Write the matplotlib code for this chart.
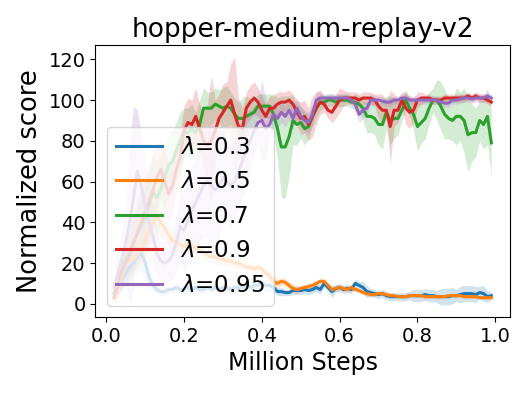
import numpy as np
import matplotlib
matplotlib.use("Agg")
import matplotlib.pyplot as plt

steps = np.round(np.arange(2, 100) / 100.0, 2)  # 0.02 ... 0.99 million steps

labels = [r"$\lambda$=0.3", r"$\lambda$=0.5", r"$\lambda$=0.7", r"$\lambda$=0.9", r"$\lambda$=0.95"]
colors = ["#1f77b4", "#ff7f0e", "#2ca02c", "#d62728", "#9467bd"]

mean_03 = [5, 8, 12, 15, 18, 20, 23, 25, 20, 13,
           9, 7, 6, 6, 7, 7, 8, 7, 7, 8,
           7, 8, 7, 7, 8, 7, 8, 7, 8, 8,
           7, 8, 8, 8, 9, 8, 9, 9, 10, 9,
           9, 8, 6, 6, 5.5, 5.5, 6.5, 6.5, 6.5, 7,
           6.5, 7, 8, 7, 10, 8, 6, 7.5, 8, 7,
           7.5, 7, 10, 9, 8, 6, 5.5, 5, 4.5, 5,
           4, 3.5, 3.5, 3.5, 3.5, 3.5, 4, 4, 4, 4,
           4.5, 4, 4, 3.5, 3.5, 3.5, 3.5, 4, 4, 4.5,
           5, 5, 5, 4.5, 5.5, 5, 3.5, 4]
std_03 = [3, 4, 5, 6, 7, 7, 8, 9, 8, 6,
          3, 2, 2, 2, 2, 2, 2, 2, 2, 2,
          2, 2, 2, 2, 2, 2, 2, 2, 2, 2,
          2, 2, 2, 2, 2, 2, 2, 2, 2, 3,
          3, 2, 2, 2, 1.5, 1.5, 2, 2, 2, 2,
          2, 2, 2, 2, 2, 2, 3, 2, 2, 2,
          2, 2, 2, 2, 3, 3, 2, 2, 2, 2,
          2, 2, 2, 2, 2, 2, 2, 3, 3, 3,
          3, 3, 3, 3, 4, 4, 4, 4, 3, 4,
          4, 4, 4, 4, 3, 4, 3, 2]

mean_05 = [3, 8, 14, 20, 21, 22, 24, 27, 32, 36,
           40, 43, 40, 37, 34, 31, 30, 29, 28, 30,
           29, 27, 26, 25, 24, 23, 23, 22, 22, 21,
           21, 20, 20, 19, 18, 18, 17, 18, 17, 15,
           14, 11, 10, 11, 10.5, 9, 7.5, 7, 7.5, 8,
           8.5, 9, 10, 11, 11, 9, 7, 7.5, 8, 7.5,
           7, 8, 7, 6.5, 5.5, 5, 4.5, 4.5, 5, 5,
           4.5, 4, 4, 3.5, 3.5, 3.5, 4, 4, 4, 4,
           3.5, 3.5, 3.5, 3.5, 3.5, 3.5, 4, 4, 4, 4,
           3.5, 3.5, 3.5, 3.5, 3, 3, 3, 3]
std_05 = [3, 5, 6, 7, 6, 6, 7, 8, 9, 9,
          9, 8, 7, 6, 5, 5, 5, 4, 4, 4,
          4, 3, 3, 3, 3, 3, 3, 3, 3, 3,
          3, 3, 2, 2, 2, 2, 2, 2, 2, 2,
          3, 3, 2, 2, 2, 2, 2, 2, 1.5, 1.5,
          1.5, 1.5, 1.5, 1.5, 1.5, 1.5, 1.5, 1.5, 1.5, 1.5,
          1.5, 1.5, 1.5, 1, 1, 1, 1, 1, 1, 1,
          1, 1, 1, 1, 1, 1, 1, 1, 1, 1,
          1, 1, 1, 1, 1, 1, 1, 1, 1, 1,
          1, 1, 1, 1, 1, 1, 1, 1]

mean_07 = [5, 12, 18, 22, 26, 30, 34, 38, 42, 48,
           55, 52, 56, 62, 68, 70, 75, 80, 84, 84,
           86, 84, 88, 96, 96, 96, 98, 97, 96, 97,
           96, 93, 91, 91, 92, 93, 94, 97, 97, 97,
           97, 93, 86, 77, 77, 82, 90, 88, 89, 86,
           87, 92, 96, 99, 99, 100, 100, 99, 100, 100,
           100, 99, 99, 98, 96, 92, 92, 91, 88, 88,
           94, 90, 91, 91, 95, 100, 96, 93, 87, 89,
           91, 96, 100, 100, 97, 93, 91, 90, 92, 92,
           90, 83, 84, 84, 90, 88, 92, 79]
std_07 = [3, 6, 8, 10, 12, 12, 14, 15, 16, 18,
          18, 18, 16, 15, 15, 15, 14, 14, 12, 12,
          12, 10, 12, 10, 8, 8, 8, 8, 10, 10,
          8, 8, 8, 10, 10, 8, 6, 6, 6, 6,
          6, 10, 15, 25, 25, 20, 12, 10, 8, 8,
          6, 5, 5, 4, 3, 3, 3, 3, 3, 3,
          3, 3, 4, 4, 6, 8, 8, 8, 10, 12,
          8, 12, 10, 8, 5, 5, 4, 8, 12, 10,
          10, 8, 6, 10, 12, 12, 10, 10, 14, 12,
          16, 18, 14, 12, 10, 12, 14, 16]

mean_09 = [3, 10, 16, 20, 24, 30, 35, 40, 45, 50,
           56, 62, 66, 60, 54, 58, 66, 72, 85, 89,
           88, 92, 86, 80, 78, 80, 85, 91, 94, 97,
           100, 93, 87, 86, 96, 99, 101, 99, 95, 92,
           96, 96, 98, 99, 99, 100, 98, 94, 91, 92,
           88, 92, 96, 99, 98, 95, 94, 97, 100, 101,
           101, 101, 101, 100, 101, 101, 101, 100, 97, 95,
           95, 87, 95, 95, 100, 96, 94, 95, 100, 101,
           101, 101, 100, 100, 100, 101, 101, 101, 101, 101,
           101, 102, 101, 102, 101, 101, 100, 99]
std_09 = [3, 6, 8, 10, 12, 14, 16, 18, 18, 18,
          18, 16, 14, 16, 14, 14, 12, 12, 12, 12,
          12, 14, 12, 14, 20, 32, 15, 12, 14, 12,
          18, 28, 14, 10, 8, 8, 8, 7, 7, 6,
          6, 6, 6, 5, 5, 5, 5, 6, 8, 8,
          8, 10, 8, 6, 4, 4, 5, 6, 6, 4,
          3, 3, 3, 3, 3, 3, 3, 3, 6, 8,
          4, 18, 8, 6, 4, 8, 8, 6, 4, 3,
          2, 2, 2, 2, 2, 2, 2, 2, 2, 2,
          2, 2, 2, 2, 2, 2, 2, 2]

mean_095 = [8, 15, 22, 30, 40, 52, 65, 58, 48, 40,
            33, 25, 21, 20, 21, 24, 30, 38, 36, 41,
            46, 50, 54, 58, 60, 58, 56, 58, 62, 60,
            58, 60, 65, 70, 76, 80, 85, 89, 90, 86,
            88, 93, 91, 94, 92, 95, 91, 96, 92, 90,
            89, 93, 100, 101, 101, 101, 101, 101, 101, 101,
            101, 100, 98, 93, 95, 96, 100, 100, 100, 99.5,
            99, 99, 100, 100, 101, 101, 100, 100, 100, 100,
            100, 100, 100, 100, 99, 98.5, 98.5, 100, 100, 100.5,
            101, 101, 100.5, 101, 101, 101, 102, 101]
std_095 = [5, 10, 15, 20, 40, 45, 30, 25, 20, 18,
           15, 12, 10, 10, 10, 12, 15, 18, 20, 22,
           22, 22, 25, 25, 28, 30, 28, 25, 22, 20,
           20, 20, 20, 18, 18, 15, 12, 10, 20, 15,
           6, 6, 5, 5, 5, 5, 5, 5, 5, 5,
           5, 5, 4, 3, 2, 2, 2, 2, 2, 2,
           2, 2, 3, 4, 4, 3, 3, 2, 2, 2,
           2, 2, 2, 2, 2, 2, 2, 2, 2, 2,
           2, 2, 2, 2, 2, 2, 2, 2, 2, 2,
           2, 2, 2, 2, 2, 2, 2, 2]

means = [mean_03, mean_05, mean_07, mean_09, mean_095]
stds = [std_03, std_05, std_07, std_09, std_095]

fig = plt.figure(figsize=(5.32, 3.94), dpi=100)
ax = fig.add_axes([0.179, 0.195, 0.78, 0.691])

for m, s, c, lab in zip(means, stds, colors, labels):
    m = np.asarray(m, float)
    s = np.asarray(s, float)
    ax.plot(steps, m, color=c, lw=2.2, label=lab)
    ax.fill_between(steps, m - s, m + s, color=c, alpha=0.2, lw=0)

ax.set_title("hopper-medium-replay-v2", fontsize=19)
ax.set_xlabel("Million Steps", fontsize=17)
ax.set_ylabel("Normalized score", fontsize=18.5)
ax.set_xticks([0.0, 0.2, 0.4, 0.6, 0.8, 1.0])
ax.set_yticks([0, 20, 40, 60, 80, 100, 120])
ax.tick_params(labelsize=14)
ax.legend(loc="lower left", fontsize=16.5)

fig.savefig("out.png", dpi=100)
